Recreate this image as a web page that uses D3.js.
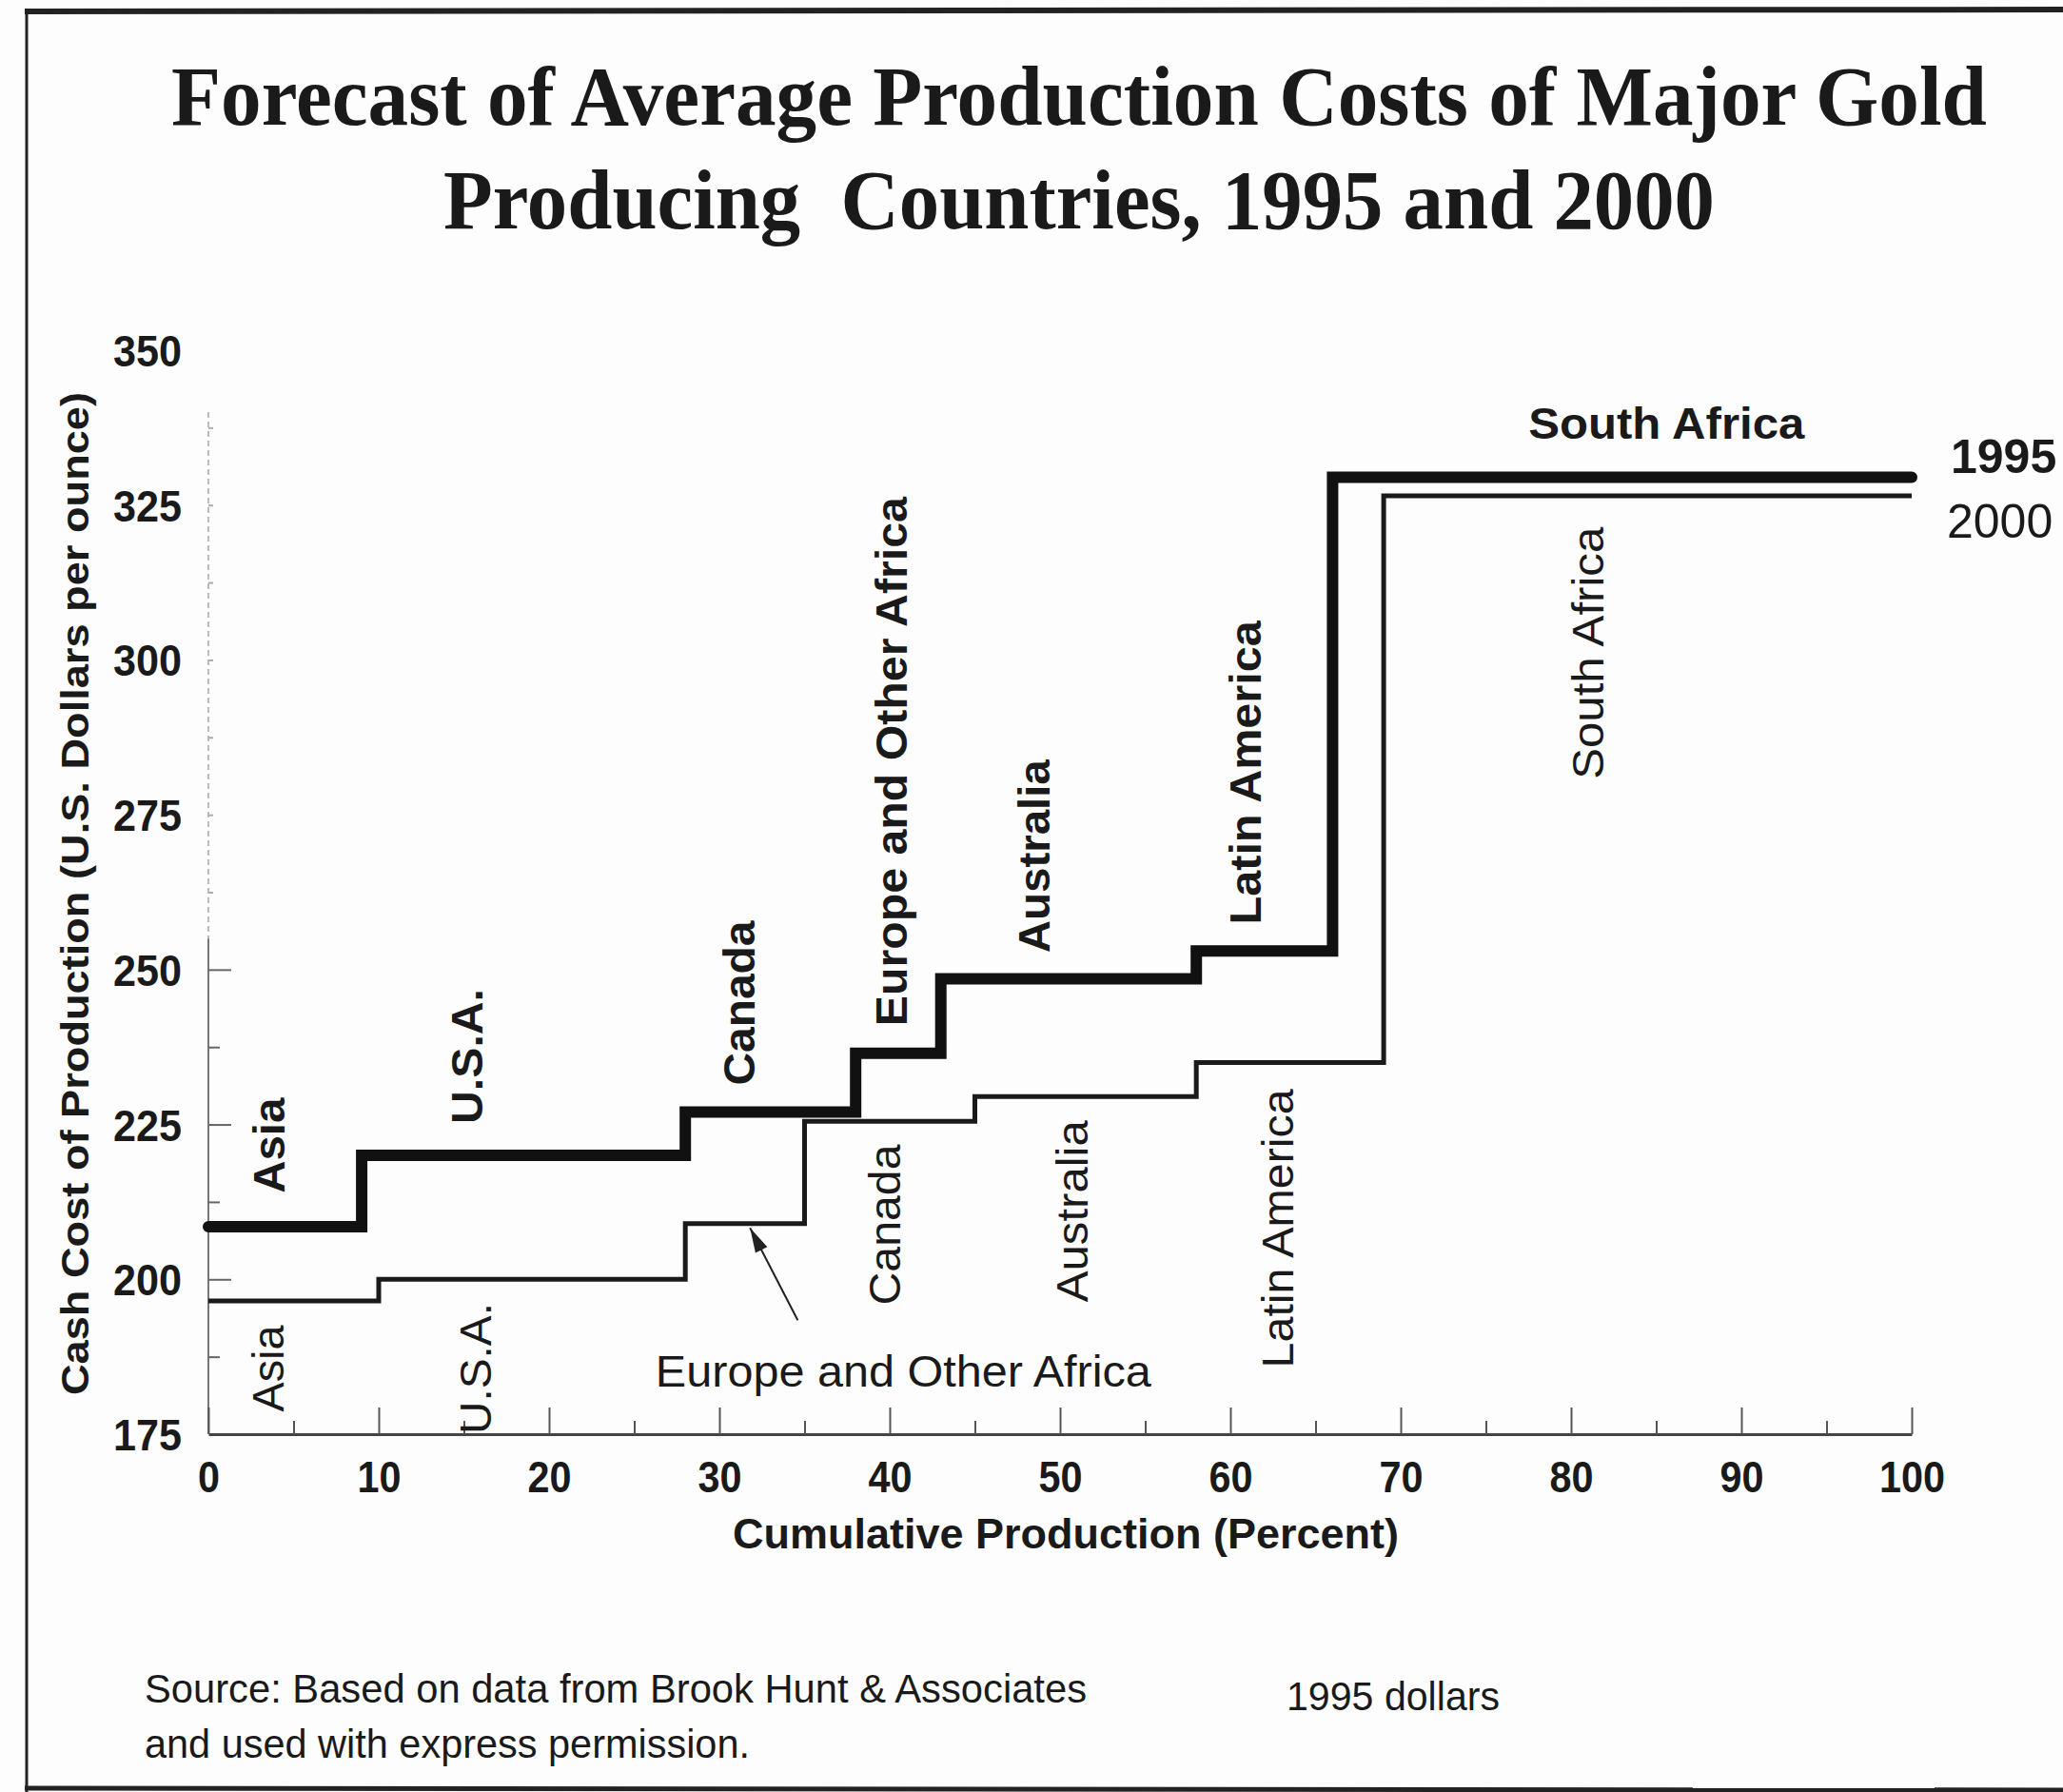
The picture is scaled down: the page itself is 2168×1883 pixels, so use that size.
<!DOCTYPE html>
<html>
<head>
<meta charset="utf-8">
<title>Forecast of Average Production Costs of Major Gold Producing Countries</title>
<script src="https://d3js.org/d3.v7.min.js"></script>
<style>
  body { margin: 0; background: #fdfdfd; }
  svg { display: block; }
  .sans { font-family: "Liberation Sans", Arial, sans-serif; fill: #1a1a1a; }
  .serif { font-family: "Liberation Serif", "Times New Roman", serif; fill: #1a1a1a; }
</style>
</head>
<body>
<svg width="2168" height="1883"></svg>
<script>

// cumulative production break points (percent) and cash cost per step, 1995 dollars
var breaks1995 = [0, 9, 28, 38, 43, 58, 66, 100];
var cost1995   = [208.5, 220, 227, 236.5, 248.5, 253, 329.5];
var breaks2000 = [0, 10, 28, 35, 45, 58, 69, 100];
var cost2000   = [196.5, 200, 209, 225.5, 229.5, 235, 326.5];

var regions1995 = ["Asia", "U.S.A.", "Canada", "Europe and Other Africa", "Australia", "Latin America", "South Africa"];
var regions2000 = ["Asia", "U.S.A.", "Europe and Other Africa", "Canada", "Australia", "Latin America", "South Africa"];

var xTicks = [0, 10, 20, 30, 40, 50, 60, 70, 80, 90, 100];
var yTicks = [175, 200, 225, 250, 275, 300, 325, 350];

var svg = d3.select("svg");

var x = d3.scaleLinear().domain([0, 100]).range([219, 2009]);
var y = d3.scaleLinear().domain([175, 350]).range([1507, 368]);

// page frame (scanned page edges)
svg.append("line").attr("x1", 26).attr("x2", 2168).attr("y1", 12).attr("y2", 10)
   .attr("stroke", "#222").attr("stroke-width", 6);
svg.append("line").attr("x1", 28).attr("x2", 28).attr("y1", 10).attr("y2", 1883)
   .attr("stroke", "#222").attr("stroke-width", 3);
svg.append("line").attr("x1", 26).attr("x2", 2168).attr("y1", 1879).attr("y2", 1881)
   .attr("stroke", "#222").attr("stroke-width", 5);

// title
svg.append("text").attr("class", "serif")
   .attr("x", 180).attr("y", 131)
   .attr("font-size", 88).attr("font-weight", "bold")
   .attr("textLength", 1908).attr("lengthAdjust", "spacingAndGlyphs")
   .text("Forecast of Average Production Costs of Major Gold");
svg.append("text").attr("class", "serif")
   .attr("x", 466).attr("y", 240)
   .attr("font-size", 88).attr("font-weight", "bold")
   .attr("textLength", 1336).attr("lengthAdjust", "spacingAndGlyphs")
   .attr("xml:space", "preserve")
   .text("Producing  Countries, 1995 and 2000");

// y axis: faint upper part, darker lower part
svg.append("line").attr("x1", x(0)).attr("x2", x(0)).attr("y1", y(340)).attr("y2", y(255))
   .attr("stroke", "#bbb").attr("stroke-width", 2).attr("stroke-dasharray", "6,4");
svg.append("line").attr("x1", x(0)).attr("x2", x(0)).attr("y1", y(255)).attr("y2", y(175))
   .attr("stroke", "#777").attr("stroke-width", 2);

var yMinor = d3.range(187.5, 340, 12.5);
var gyTicks = svg.append("g").attr("transform", "translate(" + x(0) + ",0)")
   .call(d3.axisLeft(y).tickValues(yMinor).tickSizeInner(-12).tickSizeOuter(0).tickFormat(""));
gyTicks.select(".domain").remove();
gyTicks.selectAll(".tick line")
   .attr("stroke", function(d) { return d > 255 ? "#aaa" : "#666"; })
   .attr("stroke-width", 2)
   .attr("x2", function(d) {
     if (d > 255) return 5;
     return (d % 25 === 0) ? 24 : 12;
   });

var gyLabels = svg.append("g").attr("transform", "translate(" + x(0) + ",0)")
   .call(d3.axisLeft(y).tickValues(yTicks).tickSize(0).tickPadding(28));
gyLabels.select(".domain").remove();
gyLabels.selectAll("text").attr("class", "sans")
   .attr("font-size", 46).attr("font-weight", "bold").attr("dy", "0.36em")
   .attr("textLength", 72).attr("lengthAdjust", "spacingAndGlyphs");

// x axis
var gx = svg.append("g").attr("transform", "translate(0," + y(175) + ")")
   .call(d3.axisBottom(x).tickValues(d3.range(0, 101, 5)).tickSizeInner(-14).tickSizeOuter(0)
   .tickFormat(function(d) { return d % 10 === 0 ? d : ""; }));
gx.select(".domain").attr("stroke", "#444").attr("stroke-width", 3);
gx.selectAll(".tick line").attr("stroke", "#555").attr("stroke-width", 2)
   .attr("y2", function(d) { return d % 10 === 0 ? -28 : -14; });
gx.selectAll("text").attr("class", "sans")
   .attr("font-size", 46).attr("font-weight", "bold")
   .attr("y", 44).attr("dy", "0.36em")
   .filter(function(d) { return d % 10 === 0; })
   .attr("textLength", function(d) { return String(d).length * 23; })
   .attr("lengthAdjust", "spacingAndGlyphs");

// axis titles
svg.append("text").attr("class", "sans")
   .attr("transform", "translate(79,939) rotate(-90)")
   .attr("text-anchor", "middle").attr("dominant-baseline", "central")
   .attr("font-size", 40).attr("font-weight", "bold")
   .attr("textLength", 1054).attr("lengthAdjust", "spacingAndGlyphs")
   .text("Cash Cost of Production (U.S. Dollars per ounce)");
svg.append("text").attr("class", "sans")
   .attr("x", 1120).attr("y", 1611)
   .attr("text-anchor", "middle").attr("dominant-baseline", "central")
   .attr("font-size", 44).attr("font-weight", "bold")
   .attr("textLength", 700).attr("lengthAdjust", "spacingAndGlyphs")
   .text("Cumulative Production (Percent)");

// step lines
function stepPoints(breaks, costs) {
  var pts = costs.map(function(c, i) { return [breaks[i], c]; });
  pts.push([breaks[breaks.length - 1], costs[costs.length - 1]]);
  return pts;
}
var line = d3.line()
   .x(function(d) { return x(d[0]); })
   .y(function(d) { return y(d[1]); })
   .curve(d3.curveStepAfter);

svg.append("path").datum(stepPoints(breaks2000, cost2000))
   .attr("d", line).attr("fill", "none").attr("stroke", "#1a1a1a")
   .attr("stroke-width", 5).attr("stroke-linejoin", "miter").attr("stroke-linecap", "butt");
svg.append("path").datum(stepPoints(breaks1995, cost1995))
   .attr("d", line).attr("fill", "none").attr("stroke", "#111")
   .attr("stroke-width", 12).attr("stroke-linejoin", "miter").attr("stroke-linecap", "round");

// series labels at the right end
svg.append("text").attr("class", "sans")
   .attr("x", 2050).attr("y", 480).attr("dominant-baseline", "central")
   .attr("font-size", 50).attr("font-weight", "bold").text("1995");
svg.append("text").attr("class", "sans")
   .attr("x", 2046).attr("y", 548).attr("dominant-baseline", "central")
   .attr("font-size", 50).text("2000");

// region annotations, placed in data units [percent, cost], with rendered length
var labels1995 = [
  {pos: [3.6, 221.6],  len: 100, rot: true},
  {pos: [15.2, 236],   len: 142, rot: true},
  {pos: [31.2, 244.6], len: 173, rot: true},
  {pos: [40.1, 283.6], len: 556, rot: true},
  {pos: [48.5, 268.3], len: 203, rot: true},
  {pos: [60.9, 281.8], len: 319, rot: true},
  {pos: [85.6, 338.2], len: 290, rot: false}
];
var labels2000 = [
  {pos: [3.5, 185.6],  len: 91,  rot: true},
  {pos: [15.7, 185.6], len: 138, rot: true},
  {pos: [40.8, 185.1], len: 521, rot: false},
  {pos: [39.7, 208.8], len: 169, rot: true},
  {pos: [50.7, 211],   len: 191, rot: true},
  {pos: [62.8, 208.2], len: 293, rot: true},
  {pos: [81, 301.1],   len: 265, rot: true}
];

function drawLabels(names, layout, bold) {
  svg.append("g").selectAll("text")
    .data(names)
    .join("text")
    .attr("class", "sans")
    .attr("transform", function(d, i) {
      var p = layout[i].pos;
      return "translate(" + x(p[0]) + "," + y(p[1]) + ")" + (layout[i].rot ? " rotate(-90)" : "");
    })
    .attr("text-anchor", "middle").attr("dominant-baseline", "central")
    .attr("font-size", 46).attr("font-weight", bold ? "bold" : "normal")
    .attr("textLength", function(d, i) { return layout[i].len; })
    .attr("lengthAdjust", "spacingAndGlyphs")
    .text(function(d) { return d; });
}
drawLabels(regions1995, labels1995, true);
drawLabels(regions2000, labels2000, false);

// arrow from the Europe label to the 2000 Europe step
var arrowFrom = [34.6, 193.4], arrowTo = [31.8, 208.3];
var ax0 = x(arrowFrom[0]), ay0 = y(arrowFrom[1]), ax1 = x(arrowTo[0]), ay1 = y(arrowTo[1]);
svg.append("line").attr("x1", ax0).attr("y1", ay0).attr("x2", ax1).attr("y2", ay1)
   .attr("stroke", "#222").attr("stroke-width", 2);
var ang = Math.atan2(ay1 - ay0, ax1 - ax0);
var hl = 26, hw = 7;
var bx = ax1 - hl * Math.cos(ang), by = ay1 - hl * Math.sin(ang);
svg.append("path")
   .attr("d", "M" + ax1 + "," + ay1 +
              "L" + (bx + hw * Math.sin(ang)) + "," + (by - hw * Math.cos(ang)) +
              "L" + (bx - hw * Math.sin(ang)) + "," + (by + hw * Math.cos(ang)) + "Z")
   .attr("fill", "#222");

// footer notes
svg.append("text").attr("class", "sans")
   .attr("x", 152).attr("y", 1774).attr("dominant-baseline", "central")
   .attr("font-size", 42).attr("textLength", 990).attr("lengthAdjust", "spacingAndGlyphs")
   .text("Source: Based on data from Brook Hunt & Associates");
svg.append("text").attr("class", "sans")
   .attr("x", 152).attr("y", 1832).attr("dominant-baseline", "central")
   .attr("font-size", 42).attr("textLength", 636).attr("lengthAdjust", "spacingAndGlyphs")
   .text("and used with express permission.");
svg.append("text").attr("class", "sans")
   .attr("x", 1352).attr("y", 1782).attr("dominant-baseline", "central")
   .attr("font-size", 42).attr("textLength", 224).attr("lengthAdjust", "spacingAndGlyphs")
   .text("1995 dollars");

</script>
</body>
</html>
